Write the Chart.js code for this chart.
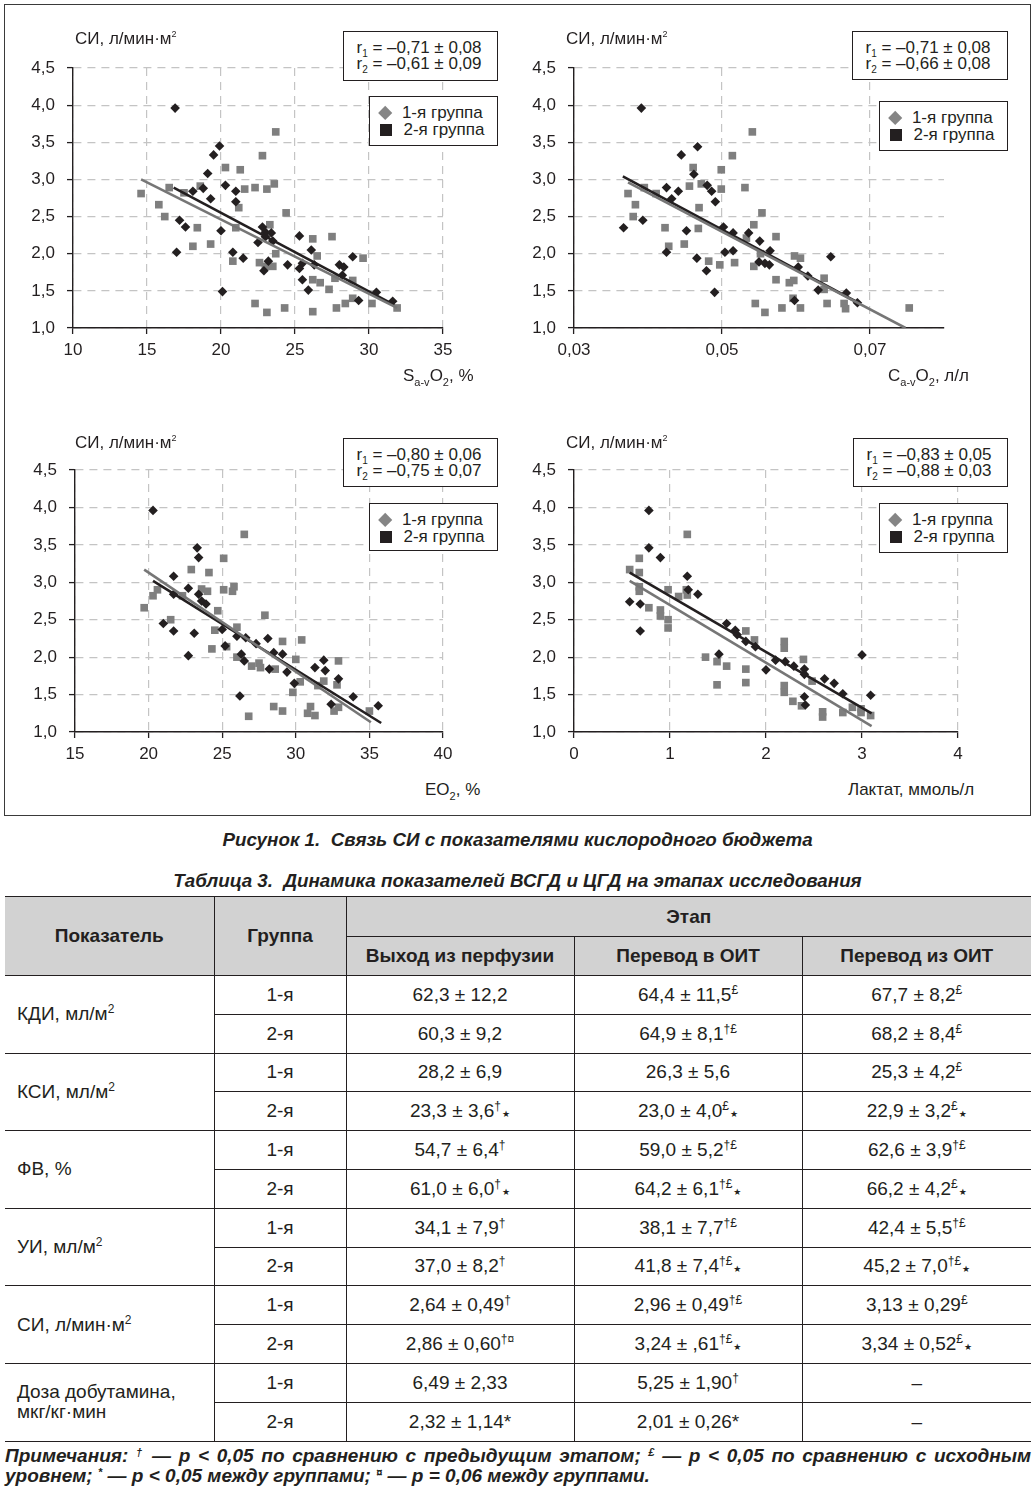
<!DOCTYPE html>
<html lang="ru">
<head>
<meta charset="utf-8">
<title>Рисунок 1. Связь СИ с показателями кислородного бюджета</title>
<script src="https://cdn.jsdelivr.net/npm/chart.js@4.4.1/dist/chart.umd.min.js"></script>
<style>
  html, body { margin: 0; padding: 0; background: #fff; }
  body {
    position: relative; width: 1035px; height: 1492px; overflow: hidden;
    font-family: "Liberation Sans", Arial, Helvetica, sans-serif; color: #231f20;
  }
  .frame { position: absolute; left: 4px; top: 4px; width: 1027px; height: 812px; box-sizing: border-box; border: 1.5px solid #3a3a3a; }
  .plot { position: absolute; }
  .lbl { position: absolute; font-size: 17px; line-height: 20px; white-space: nowrap; }
  .lbl sub { font-size: 11px; line-height: 0; vertical-align: -5px; }
  .lbl sup { font-size: 9px; line-height: 0; vertical-align: 7px; }
  .rbox, .legend {
    position: absolute; box-sizing: border-box; border: 1.5px solid #231f20; background: #fff;
    font-size: 17px; line-height: 16.7px; white-space: nowrap;
  }
  .rbox { padding: 7.6px 0 0 12.5px; }
  .rbox sub { font-size: 10px; line-height: 0; vertical-align: -4px; }
  .legend { padding: 8px 0 0 6px; }
  .legend .row { height: 16.7px; display: flex; align-items: center; }
  .mk { display: inline-block; margin: 0 11.5px 0 4px; }
  .mk.dia { width: 10.4px; height: 10.4px; background: #858585; transform: rotate(45deg); }
  .mk.sq { width: 12px; height: 12px; background: #231f20; }
  .cap { position: absolute; left: 0; width: 1035px; text-align: center; font-weight: bold; font-style: italic; font-size: 18.8px; line-height: 22px; }
  table.data {
    position: absolute; left: 5px; top: 896px; width: 1026px; border-collapse: collapse; table-layout: fixed;
    font-size: 19px;
  }
  table.data td, table.data th { border: 1.5px solid #231f20; text-align: center; padding: 0; vertical-align: middle; }
  table.data th { background: #d2d2d2; font-weight: bold; }
  table.data tr > :first-child { border-left: none; }
  table.data tr > :last-child { border-right: none; }
  table.data td.par { text-align: left; padding-left: 12px; line-height: 20px; }
  table.data sup { font-size: 12px; line-height: 0; vertical-align: 7px; }
  table.data .st { font-family: "DejaVu Sans", sans-serif; font-size: 9px; line-height: 0; vertical-align: 0; margin-left: 1px; }
  .note { position: absolute; left: 5px; width: 1026px; font-weight: bold; font-style: italic; font-size: 19px; line-height: 20px; white-space: nowrap; }
  .note sup { font-size: 11px; line-height: 0; vertical-align: 6px; }
  .note.l1 { white-space: normal; text-align: justify; text-align-last: justify; }
</style>
</head>
<body>
<div class="frame"></div>

<div class="plot" style="left:17px; top:45px; width:450px; height:323px;"><canvas id="chart-sat"></canvas></div>
<div class="plot" style="left:518px; top:45px; width:450px; height:323px;"><canvas id="chart-cav"></canvas></div>
<div class="plot" style="left:19px; top:447px; width:448px; height:325px;"><canvas id="chart-eo"></canvas></div>
<div class="plot" style="left:518px; top:447px; width:464px; height:325px;"><canvas id="chart-lac"></canvas></div>

<div class="lbl" style="left:75px; top:29px;">СИ, л/мин·м<sup>2</sup></div>
<div class="lbl" style="left:566px; top:29px;">СИ, л/мин·м<sup>2</sup></div>
<div class="lbl" style="left:75px; top:433px;">СИ, л/мин·м<sup>2</sup></div>
<div class="lbl" style="left:566px; top:433px;">СИ, л/мин·м<sup>2</sup></div>

<div class="lbl" style="left:403px; top:366px;">S<sub>a-v</sub>O<sub>2</sub>, %</div>
<div class="lbl" style="left:888px; top:366px;">C<sub>a-v</sub>O<sub>2</sub>, л/л</div>
<div class="lbl" style="left:425px; top:780px;">EO<sub>2</sub>, %</div>
<div class="lbl" style="left:848px; top:780px;">Лактат, ммоль/л</div>

<div class="rbox" style="left:343px; top:31px; width:155px; height:50px;">r<sub>1</sub> = –0,71 ± 0,08<br>r<sub>2</sub> = –0,61 ± 0,09</div>
<div class="rbox" style="left:852px; top:31px; width:156px; height:49px;">r<sub>1</sub> = –0,71 ± 0,08<br>r<sub>2</sub> = –0,66 ± 0,08</div>
<div class="rbox" style="left:343px; top:438px; width:155px; height:49px;">r<sub>1</sub> = –0,80 ± 0,06<br>r<sub>2</sub> = –0,75 ± 0,07</div>
<div class="rbox" style="left:853px; top:438px; width:155px; height:49px;">r<sub>1</sub> = –0,83 ± 0,05<br>r<sub>2</sub> = –0,88 ± 0,03</div>

<div class="legend" style="left:369px; top:96px; width:129px; height:50px;">
  <div class="row"><span class="mk dia"></span>1-я группа</div>
  <div class="row"><span class="mk sq"></span>2-я группа</div>
</div>
<div class="legend" style="left:879px; top:101px; width:129px; height:50px;">
  <div class="row"><span class="mk dia"></span>1-я группа</div>
  <div class="row"><span class="mk sq"></span>2-я группа</div>
</div>
<div class="legend" style="left:369px; top:503px; width:129px; height:48px;">
  <div class="row"><span class="mk dia"></span>1-я группа</div>
  <div class="row"><span class="mk sq"></span>2-я группа</div>
</div>
<div class="legend" style="left:879px; top:503px; width:129px; height:50px;">
  <div class="row"><span class="mk dia"></span>1-я группа</div>
  <div class="row"><span class="mk sq"></span>2-я группа</div>
</div>

<div class="cap" style="top:829px;">Рисунок 1. &nbsp;Связь СИ с показателями кислородного бюджета</div>
<div class="cap" style="top:870px;">Таблица 3. &nbsp;Динамика показателей ВСГД и ЦГД на этапах исследования</div>

<table class="data" id="table-dyn"></table>

<div class="note l1" style="top:1446px;">Примечания: <sup>†</sup> — p &lt; 0,05 по сравнению с предыдущим этапом; <sup>£</sup> — p &lt; 0,05 по сравнению с исходным</div>
<div class="note" style="top:1466px;">уровнем; <sup>*</sup> — p &lt; 0,05 между группами; <sup>¤</sup> — p = 0,06 между группами.</div>

<script>
// y axis is the same on all four panels (СИ, л/мин·м2)
const yTicks = [1.0, 1.5, 2.0, 2.5, 3.0, 3.5, 4.0, 4.5];

// panel 1: SaO2 a-v, %
const satTicks = [10, 15, 20, 25, 30, 35];
const satDiamonds = [[16.9,3.96],[19.9,3.45],[19.5,3.33],[19.1,3.08],[18.8,2.88],[18.1,2.84],[19.3,2.74],[20.3,2.92],[21.0,2.84],[21.0,2.70],[17.2,2.45],[17.6,2.36],[20.0,2.31],[17.0,2.02],[20.1,1.49],[20.8,2.02],[21.5,1.94],[22.5,2.15],[22.8,2.36],[23.0,2.29],[23.4,2.28],[23.0,2.23],[23.5,2.17],[22.9,1.77],[23.2,1.90],[24.5,1.85],[25.3,2.24],[25.5,1.87],[25.3,1.80],[26.1,2.05],[26.3,1.85],[25.5,1.65],[25.9,1.51],[28.0,1.85],[28.3,1.82],[28.2,1.71],[28.9,1.96],[29.3,1.37],[30.5,1.48],[31.6,1.36]];
const satSquares = [[14.6,2.81],[16.5,2.89],[15.8,2.66],[16.2,2.50],[18.6,2.91],[17.5,2.82],[20.3,3.16],[21.3,3.13],[22.8,3.32],[23.7,3.64],[21.6,2.87],[22.3,2.89],[23.1,2.87],[23.6,2.94],[21.2,2.62],[24.4,2.55],[18.4,2.35],[21.0,2.35],[18.1,2.10],[19.3,2.13],[23.3,2.39],[23.7,2.00],[20.8,1.90],[22.6,1.88],[23.0,1.83],[23.5,1.83],[26.2,2.20],[27.5,2.23],[26.5,1.97],[29.6,1.94],[26.2,1.65],[26.7,1.61],[27.3,1.52],[27.7,1.67],[28.9,1.64],[22.3,1.33],[23.1,1.21],[24.3,1.27],[26.2,1.22],[27.8,1.27],[28.4,1.33],[28.9,1.40],[30.2,1.33],[31.9,1.27]];
const satLineBlack = [[16.8,2.89],[31.7,1.31]];
const satLineGrey = [[14.6,3.00],[31.9,1.27]];

// panel 2: CaO2 a-v, л/л
const cavTicks = [0.03, 0.05, 0.07];
const cavDiamonds = [[0.0391,3.96],[0.0467,3.44],[0.0445,3.33],[0.0462,3.07],[0.0425,2.89],[0.0441,2.84],[0.0432,2.74],[0.0480,2.92],[0.0486,2.84],[0.0491,2.70],[0.0367,2.35],[0.0393,2.45],[0.0452,2.31],[0.0425,2.02],[0.0466,1.94],[0.0479,1.77],[0.0490,1.48],[0.0502,2.36],[0.0515,2.28],[0.0536,2.28],[0.0504,2.02],[0.0515,2.04],[0.0551,2.17],[0.0565,2.04],[0.0550,1.89],[0.0558,1.87],[0.0564,1.85],[0.0603,1.82],[0.0616,1.70],[0.0647,1.96],[0.0630,1.51],[0.0668,1.47],[0.0598,1.37],[0.0683,1.34]];
const cavSquares = [[0.0373,2.81],[0.0383,2.66],[0.0380,2.50],[0.0395,2.89],[0.0411,2.81],[0.0423,2.35],[0.0428,2.10],[0.0449,2.13],[0.0456,2.91],[0.0461,3.16],[0.0472,2.94],[0.0469,2.62],[0.0468,2.34],[0.0482,1.90],[0.0497,1.85],[0.0499,3.13],[0.0499,2.87],[0.0514,3.32],[0.0531,2.89],[0.0541,3.64],[0.0554,2.55],[0.0543,2.39],[0.0533,2.21],[0.0517,1.88],[0.0543,1.83],[0.0552,2.00],[0.0573,2.23],[0.0573,1.65],[0.0591,1.61],[0.0597,1.64],[0.0598,1.97],[0.0606,1.94],[0.0638,1.67],[0.0638,1.52],[0.0596,1.40],[0.0606,1.27],[0.0581,1.27],[0.0545,1.33],[0.0558,1.21],[0.0642,1.33],[0.0665,1.33],[0.0667,1.26],[0.0753,1.27]];
const cavLineBlack = [[0.0366,3.04],[0.0684,1.34]];
const cavLineGrey = [[0.0373,2.96],[0.0748,1.00]];

// panel 3: EO2, %
const eoTicks = [15, 20, 25, 30, 35, 40];
const eoDiamonds = [[20.3,3.96],[23.3,3.46],[23.4,3.33],[21.7,3.08],[22.7,2.92],[21.7,2.84],[23.4,2.84],[23.6,2.75],[23.9,2.71],[21.0,2.45],[21.7,2.35],[23.1,2.32],[22.7,2.02],[25.0,2.37],[26.0,2.28],[26.6,2.26],[27.3,2.18],[28.1,2.25],[25.2,2.15],[26.3,2.04],[26.5,1.95],[28.5,2.06],[29.1,2.04],[28.2,1.84],[29.4,1.80],[29.9,1.65],[26.2,1.48],[31.3,1.86],[31.9,1.96],[32.0,1.82],[32.9,1.71],[33.9,1.47],[32.4,1.37],[35.6,1.35]];
const eoSquares = [[19.7,2.66],[20.3,2.82],[20.6,2.90],[21.5,2.50],[22.3,2.82],[22.9,3.17],[24.1,3.13],[23.6,2.91],[24.0,2.88],[25.1,3.32],[26.5,3.64],[25.1,2.90],[25.7,2.88],[25.8,2.94],[24.7,2.62],[27.9,2.56],[24.5,2.36],[24.3,2.11],[25.3,2.14],[26.0,2.40],[26.0,2.00],[27.0,1.88],[27.5,1.92],[27.6,1.86],[28.6,1.84],[29.1,2.21],[30.4,2.23],[30.0,1.97],[30.3,1.67],[29.8,1.53],[31.9,1.68],[31.5,1.62],[32.9,1.95],[32.8,1.63],[28.5,1.34],[29.1,1.28],[26.8,1.21],[31.0,1.34],[30.8,1.25],[31.3,1.22],[32.6,1.28],[32.9,1.33],[35.0,1.28]];
const eoLineBlack = [[20.3,3.02],[35.8,1.12]];
const eoLineGrey = [[19.7,3.17],[35.1,1.13]];

// panel 4: лактат, ммоль/л
const lacTicks = [0, 1, 2, 3, 4];
const lacDiamonds = [[0.78,3.96],[0.78,3.46],[0.90,3.33],[1.18,3.08],[1.29,2.84],[1.19,2.90],[0.58,2.74],[0.69,2.71],[0.69,2.35],[1.59,2.45],[1.68,2.36],[1.70,2.30],[1.79,2.21],[1.89,2.14],[1.51,2.04],[2.00,1.83],[2.10,1.96],[2.20,1.94],[2.29,1.88],[2.40,1.84],[2.40,1.77],[2.61,1.71],[2.71,1.65],[2.80,1.51],[3.00,2.03],[3.09,1.49],[2.40,1.47],[2.41,1.36]];
const lacSquares = [[0.58,3.17],[0.68,3.32],[0.68,3.13],[0.68,2.94],[0.68,2.88],[0.78,2.66],[0.90,2.63],[0.90,2.55],[0.98,2.90],[1.09,2.81],[1.17,2.90],[1.18,2.83],[1.18,3.64],[0.98,2.50],[0.98,2.39],[1.37,2.00],[1.49,1.94],[1.59,1.88],[1.49,1.63],[1.79,2.35],[1.88,2.23],[1.79,1.84],[1.79,1.66],[2.19,2.21],[2.19,2.12],[2.39,1.97],[2.19,1.62],[2.19,1.53],[2.28,1.41],[2.37,1.35],[2.48,1.68],[2.59,1.27],[2.59,1.20],[2.80,1.26],[2.90,1.33],[2.99,1.31],[2.99,1.26],[3.09,1.22]];
const lacLineBlack = [[0.58,3.13],[3.10,1.25]];
const lacLineGrey = [[0.58,3.02],[3.10,1.08]];

// table 3
const stageNames = ['Выход из перфузии', 'Перевод в ОИТ', 'Перевод из ОИТ'];
const groupNames = ['1-я', '2-я'];
const paramNames = ['КДИ, мл/м<sup>2</sup>', 'КСИ, мл/м<sup>2</sup>', 'ФВ, %', 'УИ, мл/м<sup>2</sup>', 'СИ, л/мин·м<sup>2</sup>', 'Доза добутамина,<br>мкг/кг·мин'];
// "^" starts the superscript marks, "~" is the small star
const group1Cells = [
  ['62,3 ± 12,2', '64,4 ± 11,5^£', '67,7 ± 8,2^£'],
  ['28,2 ± 6,9', '26,3 ± 5,6', '25,3 ± 4,2^£'],
  ['54,7 ± 6,4^†', '59,0 ± 5,2^†£', '62,6 ± 3,9^†£'],
  ['34,1 ± 7,9^†', '38,1 ± 7,7^†£', '42,4 ± 5,5^†£'],
  ['2,64 ± 0,49^†', '2,96 ± 0,49^†£', '3,13 ± 0,29^£'],
  ['6,49 ± 2,33', '5,25 ± 1,90^†', '–'],
];
const group2Cells = [
  ['60,3 ± 9,2', '64,9 ± 8,1^†£', '68,2 ± 8,4^£'],
  ['23,3 ± 3,6^†~', '23,0 ± 4,0^£~', '22,9 ± 3,2^£~'],
  ['61,0 ± 6,0^†~', '64,2 ± 6,1^†£~', '66,2 ± 4,2^£~'],
  ['37,0 ± 8,2^†', '41,8 ± 7,4^†£~', '45,2 ± 7,0^†£~'],
  ['2,86 ± 0,60^†¤', '3,24 ± ,61^†£~', '3,34 ± 0,52^£~'],
  ['2,32 ± 1,14*', '2,01 ± 0,26*', '–'],
];

const FONT = '"Liberation Sans", Arial, Helvetica, sans-serif';
const INK = '#231f20';
const GREY = '#7f7f7f';

const pts = list => list.map(([x, y]) => ({ x, y }));
const comma = (v, d) => v.toFixed(d).replace('.', ',');

function makeChart(id, xMin, xMax, xTicks, xDigits, diamonds, squares, lineBlack, lineGrey) {
  const ctx = document.getElementById(id);
  const grid = { color: '#c4c4c4', lineWidth: 1.2, tickColor: INK, tickLength: 6, tickWidth: 1.3 };
  const border = { color: INK, width: 1.4, dash: [8, 6] };
  const tickFont = { family: FONT, size: 17 };

  return new Chart(ctx, {
    type: 'scatter',
    data: {
      datasets: [
        { data: pts(lineGrey), showLine: true, borderColor: '#767676', borderWidth: 2.6, pointRadius: 0, order: 0 },
        { data: pts(lineBlack), showLine: true, borderColor: INK, borderWidth: 2.6, pointRadius: 0, order: 0 },
        { data: pts(diamonds), pointStyle: 'rectRot', pointRadius: 4.8, backgroundColor: INK, borderWidth: 0, order: 1 },
        { data: pts(squares), pointStyle: 'rect', pointRadius: 5.4, backgroundColor: GREY, borderWidth: 0, order: 1 },
      ]
    },
    options: {
      responsive: true,
      maintainAspectRatio: false,
      animation: false,
      // the y tick labels ask for ~22px on top, so the padding is set above that
      layout: { padding: { top: 23, right: 24, left: 0, bottom: 0 } },
      plugins: { legend: { display: false }, tooltip: { enabled: false } },
      scales: {
        x: {
          type: 'linear', min: xMin, max: xMax,
          afterBuildTicks: s => { s.ticks = xTicks.map(v => ({ value: v })); },
          afterFit: s => { s.height = 40; },
          grid, border,
          ticks: { color: INK, font: tickFont, padding: 6, autoSkip: false, maxRotation: 0, callback: v => comma(v, xDigits) }
        },
        y: {
          min: 1, max: 4.5,
          afterBuildTicks: s => { s.ticks = yTicks.map(v => ({ value: v })); },
          afterFit: s => { s.width = 56; },
          grid, border,
          ticks: { color: INK, font: tickFont, padding: 12, autoSkip: false, callback: v => comma(v, 1) }
        }
      }
    }
  });
}

makeChart('chart-sat', 10, 35, satTicks, 0, satDiamonds, satSquares, satLineBlack, satLineGrey);
makeChart('chart-cav', 0.03, 0.08, cavTicks, 2, cavDiamonds, cavSquares, cavLineBlack, cavLineGrey);
makeChart('chart-eo', 15, 40, eoTicks, 0, eoDiamonds, eoSquares, eoLineBlack, eoLineGrey);
makeChart('chart-lac', 0, 4, lacTicks, 0, lacDiamonds, lacSquares, lacLineBlack, lacLineGrey);

function cellHtml(s) {
  const [main, mark = ''] = s.split('^');
  const star = mark.endsWith('~');
  const sup = star ? mark.slice(0, -1) : mark;
  return main + (sup ? `<sup>${sup}</sup>` : '') + (star ? '<span class="st">★</span>' : '');
}

let html = '<colgroup><col style="width:209px"><col style="width:132px"><col style="width:228px"><col style="width:228px"><col style="width:229px"></colgroup>';
html += '<tr style="height:40px"><th rowspan="2">Показатель</th><th rowspan="2">Группа</th><th colspan="3">Этап</th></tr>';
html += '<tr style="height:39px">' + stageNames.map(n => `<th>${n}</th>`).join('') + '</tr>';
paramNames.forEach((name, i) => {
  html += `<tr style="height:38.8px"><td class="par" rowspan="2">${name}</td><td>${groupNames[0]}</td>` +
    group1Cells[i].map(c => `<td>${cellHtml(c)}</td>`).join('') + '</tr>';
  html += `<tr style="height:38.8px"><td>${groupNames[1]}</td>` +
    group2Cells[i].map(c => `<td>${cellHtml(c)}</td>`).join('') + '</tr>';
});
document.getElementById('table-dyn').innerHTML = html;
</script>
</body>
</html>
